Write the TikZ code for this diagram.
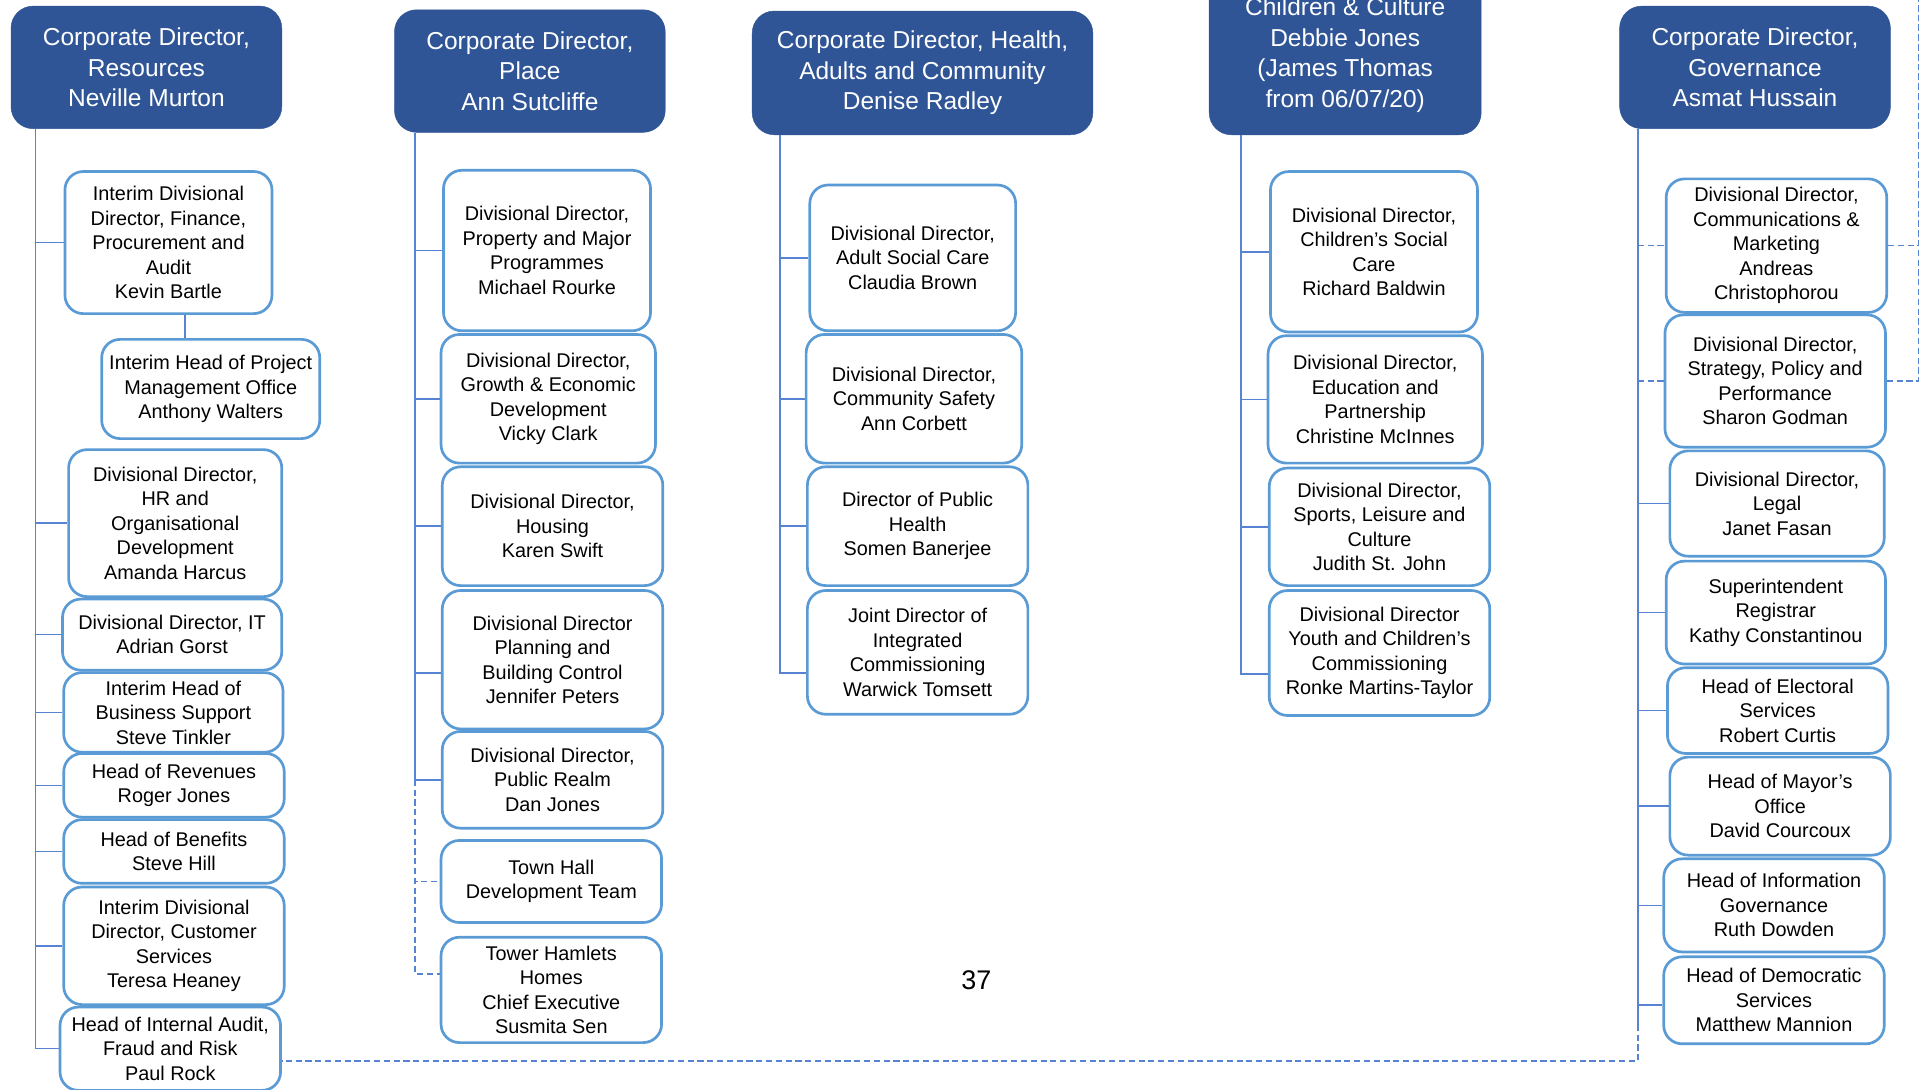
\documentclass[tikz,border=0pt]{standalone}
\usepackage{fontspec}
\setmainfont{Liberation Sans}

\definecolor{headblue}{RGB}{47,85,151}
\definecolor{boxblue}{RGB}{91,155,213}
\definecolor{linkblue}{RGB}{86,131,210}

\begin{document}
\begin{tikzpicture}[x=1pt, y=-1pt,
    head/.style={draw=headblue, fill=headblue, text=white, rounded corners=18pt,
      align=center, inner sep=2pt, font=\fontsize{20}{25}\selectfont},
    post/.style={draw=boxblue, line width=2.2pt, fill=white, rounded corners=15pt,
      align=center, inner sep=2pt, font=\fontsize{16.2}{20}\selectfont},
    link/.style={draw=linkblue, line width=1.2pt},
    dlink/.style={link, dash pattern=on 5pt off 3pt}]

    \useasboundingbox (0,0) rectangle (1568,889);
    \clip (0,0) rectangle (1568,889);

    % Resources
    \node[head, minimum width=221pt, minimum height=100pt] (res) at (119.5,55) {Corporate Director,\\Resources\\Neville Murton};
    \node[post, minimum width=169pt, minimum height=116pt] (fin) at (137.5,198) {Interim Divisional\\Director, Finance,\\Procurement and\\Audit\\Kevin Bartle};
    \node[post, minimum width=178pt, minimum height=81pt] (pmo) at (172,317.5) {Interim Head of Project\\Management Office\\Anthony Walters};
    \node[post, minimum width=174pt, minimum height=120pt] (hr) at (143,427) {Divisional Director,\\HR and\\Organisational\\Development\\Amanda Harcus};
    \node[post, minimum width=179pt, minimum height=58pt] (it) at (140.5,518) {Divisional Director, IT\\Adrian Gorst};
    \node[post, minimum width=179pt, minimum height=65pt] (bus) at (141.5,581.5) {Interim Head of\\Business Support\\Steve Tinkler};
    \node[post, minimum width=180pt, minimum height=52pt] (rev) at (142,641) {Head of Revenues\\Roger Jones};
    \node[post, minimum width=180pt, minimum height=52pt] (ben) at (142,695) {Head of Benefits\\Steve Hill};
    \node[post, minimum width=180pt, minimum height=96pt] (cust) at (142,772) {Interim Divisional\\Director, Customer\\Services\\Teresa Heaney};
    \node[post, minimum width=180pt, minimum height=68pt] (audit) at (139,856) {Head of Internal Audit,\\Fraud and Risk\\Paul Rock};

    % Place
    \node[head, minimum width=221pt, minimum height=100pt] (place) at (432.5,58) {Corporate Director,\\Place\\Ann Sutcliffe};
    \node[post, minimum width=169pt, minimum height=131pt] (prop) at (446.5,204.5) {Divisional Director,\\Property and Major\\Programmes\\Michael Rourke};
    \node[post, minimum width=175pt, minimum height=105pt] (growth) at (447.5,325.5) {Divisional Director,\\Growth \& Economic\\Development\\Vicky Clark};
    \node[post, minimum width=180pt, minimum height=97pt] (housing) at (451,429.5) {Divisional Director,\\Housing\\Karen Swift};
    \node[post, minimum width=180pt, minimum height=113pt] (plan) at (451,538.5) {Divisional Director\\Planning and\\Building Control\\Jennifer Peters};
    \node[post, minimum width=180pt, minimum height=79pt] (realm) at (451,636.5) {Divisional Director,\\Public Realm\\Dan Jones};
    \node[post, minimum width=180pt, minimum height=67pt] (town) at (450,719.5) {Town Hall\\Development Team};
    \node[post, minimum width=180pt, minimum height=86pt] (tower) at (450,808) {Tower Hamlets\\Homes\\Chief Executive\\Susmita Sen};

    % Health, Adults and Community
    \node[head, minimum width=278pt, minimum height=101pt] (hac) at (753,59.5) {Corporate Director, Health,\\Adults and Community\\Denise Radley};
    \node[post, minimum width=168pt, minimum height=119pt] (asc) at (745,210.5) {Divisional Director,\\Adult Social Care\\Claudia Brown};
    \node[post, minimum width=176pt, minimum height=105pt] (cs) at (746,325.5) {Divisional Director,\\Community Safety\\Ann Corbett};
    \node[post, minimum width=180pt, minimum height=97pt] (ph) at (749,429.5) {Director of Public\\Health\\Somen Banerjee};
    \node[post, minimum width=180pt, minimum height=101pt] (jd) at (749,532.5) {Joint Director of\\Integrated\\Commissioning\\Warwick Tomsett};

    % Children & Culture
    \node[head, minimum width=222pt, minimum height=130pt] (cc) at (1098,45) {Children \& Culture\\Debbie Jones\\(James Thomas\\from 06/07/20)};
    \node[post, minimum width=169pt, minimum height=131pt] (csc) at (1121.5,205.5) {Divisional Director,\\Children's Social\\Care\\Richard Baldwin};
    \node[post, minimum width=175pt, minimum height=104pt] (edu) at (1122.5,326) {Divisional Director,\\Education and\\Partnership\\Christine McInnes};
    \node[post, minimum width=180pt, minimum height=96pt] (spl) at (1126,430) {Divisional Director,\\Sports, Leisure and\\Culture\\Judith St. John};
    \node[post, minimum width=180pt, minimum height=102pt] (ycc) at (1126,533) {Divisional Director\\Youth and Children's\\Commissioning\\Ronke Martins-Taylor};

    % Governance
    \node[head, minimum width=221pt, minimum height=100pt] (gov) at (1432.5,55) {Corporate Director,\\Governance\\Asmat Hussain};
    \node[post, minimum width=180pt, minimum height=109pt] (comm) at (1450,200.5) {Divisional Director,\\Communications \&\\Marketing\\Andreas\\Christophorou};
    \node[post, minimum width=180pt, minimum height=108pt] (strat) at (1449,311) {Divisional Director,\\Strategy, Policy and\\Performance\\Sharon Godman};
    \node[post, minimum width=175pt, minimum height=86pt] (legal) at (1450.5,411) {Divisional Director,\\Legal\\Janet Fasan};
    \node[post, minimum width=179pt, minimum height=84pt] (reg) at (1449.5,500) {Superintendent\\Registrar\\Kathy Constantinou};
    \node[post, minimum width=180pt, minimum height=70pt] (elect) at (1451,580) {Head of Electoral\\Services\\Robert Curtis};
    \node[post, minimum width=180pt, minimum height=80pt] (mayor) at (1453,658) {Head of Mayor's\\Office\\David Courcoux};
    \node[post, minimum width=180pt, minimum height=76pt] (info) at (1448,739) {Head of Information\\Governance\\Ruth Dowden};
    \node[post, minimum width=180pt, minimum height=71pt] (dem) at (1448,816.5) {Head of Democratic\\Services\\Matthew Mannion};

    \node[font=\fontsize{22}{26}\selectfont] (pagenum) at (797,800) {37};

    % Resources lines
    \foreach \n in {fin,hr,it,bus,rev,ben,cust,audit}
        \draw[link] ([xshift=20pt]res.south west) |- (\n.west);
    \draw[link] ([xshift=13.5pt]fin.south) -- ([xshift=13.5pt]fin.south |- pmo.north);

    % Place lines
    \coordinate (pl) at ([xshift=17pt]place.south west);
    \foreach \n in {prop,growth,housing,realm}
        \draw[link] (pl) |- (\n.west);
    \draw[link] (pl) |- ([yshift=-11pt]plan.west);
    \draw[dlink] (pl |- realm.west) |- (town.west);
    \draw[dlink] (pl |- realm.west) |- ([yshift=13pt]tower.west);

    % Health lines
    \coordinate (hl) at ([xshift=23pt]hac.south west);
    \foreach \n in {asc,cs,ph}
        \draw[link] (hl) |- (\n.west);
    \draw[link] (hl) |- ([yshift=-17pt]jd.west);

    % Children lines
    \coordinate (cl) at ([xshift=26pt]cc.south west);
    \foreach \n in {csc,edu,spl}
        \draw[link] (cl) |- (\n.west);
    \draw[link] (cl) |- ([yshift=-17pt]ycc.west);

    % Governance lines
    \coordinate (gl) at ([xshift=15pt]gov.south west);
    \foreach \n in {legal,reg,elect,mayor,info}
        \draw[link] (gl) |- (\n.west);
    \draw[link] (gl) |- ([yshift=-4pt]dem.west);
    \coordinate (gend) at ([yshift=-20pt]dem.west -| gl);
    \draw[link] (gl) -- (gend);
    \draw[dlink] (gend) |- ([yshift=-10pt]audit.east);
    \draw[dlink] (gl |- comm.west) -- (comm.west);
    \draw[dlink] (gl |- strat.west) -- (strat.west);
    \coordinate (rtop) at (1566,0);
    \draw[dlink] (comm.east) -| (rtop);
    \draw[dlink] (strat.east) -| (rtop);
\end{tikzpicture}
\end{document}
